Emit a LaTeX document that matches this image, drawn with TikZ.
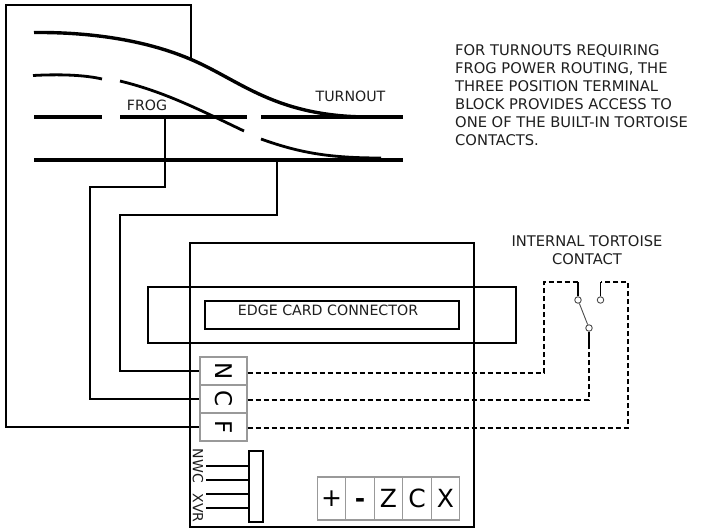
\documentclass[tikz,border=0pt]{standalone}
\usepackage{fontspec}
\setmainfont{DejaVu Sans}
\definecolor{termgray}{gray}{0.6}
\definecolor{txt}{gray}{0.12}
\tikzset{
  rail/.style={line width=3.8pt,line cap=butt},
  wire/.style={line width=1.8pt},
  dash wire/.style={line width=1.8pt,dash pattern=on 5.5pt off 2.5pt},
  box/.style={draw,line width=1.8pt},
  term/.style={draw=termgray,line width=1.4pt,fill=white,inner sep=0pt,minimum width=47pt,minimum height=28pt,font=\fontsize{23}{23}\selectfont,text=black},
  bterm/.style={draw=termgray,line width=1.4pt,fill=white,inner sep=0pt,minimum width=28.5pt,minimum height=43pt,font=\fontsize{25}{25}\selectfont,text=black},
  label/.style={font=\fontsize{14.7}{18}\selectfont,text=txt,inner sep=0pt},
  short label/.style={font=\fontsize{14.2}{18}\selectfont,text=txt,inner sep=0pt},
  pin/.style={circle,draw=black!70,line width=0.9pt,fill=white,minimum size=6.5pt,inner sep=0pt},
}
\begin{document}
\begin{tikzpicture}[x=1pt,y=-1pt]
\useasboundingbox[fill=white] (0,0) rectangle (702,528);
% outer boxes
\node[box,minimum width=284pt,minimum height=284pt,inner sep=0pt] (block) at (332,385) {};
\node[box,minimum width=368pt,minimum height=56pt,inner sep=0pt] (edge) at (332,315) {};
\node[box,minimum width=254pt,minimum height=28pt,inner sep=0pt] (edgein) at (332,315) {};
\node[short label] (edgetxt) at (328,310) {EDGE CARD CONNECTOR};
% terminal block
\node[term] (N) at (223.5,371) {\rotatebox{-90}{N}};
\node[term] (C) at (223.5,399) {\rotatebox{-90}{C}};
\node[term] (F) at (223.5,427) {\rotatebox{-90}{F}};
% track anchors
\coordinate (fsw) at (191,59);
\coordinate (frogpt) at (165,115);
\coordinate (railpt) at (277,160);
% wires
\draw[wire] (fsw) |- (6,5) |- (F.west);
\draw[wire] (frogpt) |- (90,187) |- (C.west);
\draw[wire] (railpt) |- (120,215) |- (N.west);
% rails
\draw[rail] (34,117) -- (102,117);
\draw[rail] (120,117) -- (247,117);
\draw[rail] (261,117) -- (403,117);
\draw[rail] (34,160) -- (403,160);
\draw[line width=3.4pt] (34,32.5) .. controls (90,32) and (145,40) .. (190,59)
  .. controls (240,80) and (275,117) .. (370,117);
\draw[line width=2.8pt] (33,75.5) .. controls (60,74) and (85,75) .. (102,79);
\draw[line width=2.8pt] (120,81) .. controls (165,92) and (200,110) .. (244,131);
\draw[line width=2.8pt] (261,139) .. controls (300,153) and (330,158) .. (381,158);
% labels
\node[short label] (frog) at (147,105) {FROG};
\node[short label] (turnout) at (350.5,96) {TURNOUT};
\node[label,align=left,anchor=west] (note) at (455,95) {FOR TURNOUTS REQUIRING\\FROG POWER ROUTING, THE\\THREE POSITION TERMINAL\\BLOCK PROVIDES ACCESS TO\\ONE OF THE BUILT-IN TORTOISE\\CONTACTS.};
\node[label,align=center] (inttxt) at (587,250) {INTERNAL TORTOISE\\CONTACT};
% contact
\node[pin] (p1) at (578,300) {};
\node[pin] (p2) at (600.5,300) {};
\node[pin] (p3) at (589,328) {};
\coordinate (a1) at (578,282);
\coordinate (a2) at (600.5,282);
\coordinate (a3) at (589,348);
\draw[line width=0.9pt,black!70] (p1) -- (p3);
\draw[wire] (p1) -- (a1);
\draw[wire] (p2) -- (a2);
\draw[wire] (p3) -- (a3);
\coordinate (nd) at ([yshift=-2pt]N.east);
\coordinate (cd) at ([yshift=-1pt]C.east);
\coordinate (fd) at ([yshift=-1pt]F.east);
\draw[dash wire] (nd) -| (544,282) -- (a1);
\draw[dash wire] (cd) -| (a3);
\draw[dash wire] (fd) -| (628,282) -- (a2);
% small connector
\node[box,fill=white,minimum width=14pt,minimum height=71pt,inner sep=0pt] (conn) at (256,486.5) {};
\coordinate (w1) at (206,466);
\coordinate (w2) at (206,480);
\coordinate (w3) at (206,494);
\coordinate (w4) at (206,508);
\draw[line width=1.8pt] (w1) -- (w1 -| conn.west);
\draw[line width=1.8pt] (w2) -- (w2 -| conn.west);
\draw[line width=1.8pt] (w3) -- (w3 -| conn.west);
\draw[line width=1.8pt] (w4) -- (w4 -| conn.west);
\node[inner sep=0pt,font=\fontsize{14}{14}\selectfont,text=txt] (nwc) at (198,466) {\rotatebox{-90}{NWC}};
\node[inner sep=0pt,font=\fontsize{14}{14}\selectfont,text=txt] (xvr) at (198,508) {\rotatebox{-90}{XVR}};
% bottom terminals
\node[bterm] (plus) at (331.5,498.5) {+};
\node[bterm] (minus) at (360,498.5) {\vphantom{Z}\textbf{-}};
\node[bterm] (Z) at (388.5,498.5) {Z};
\node[bterm] (CC) at (417,498.5) {C};
\node[bterm] (X) at (445.5,498.5) {X};
\end{tikzpicture}
\end{document}
